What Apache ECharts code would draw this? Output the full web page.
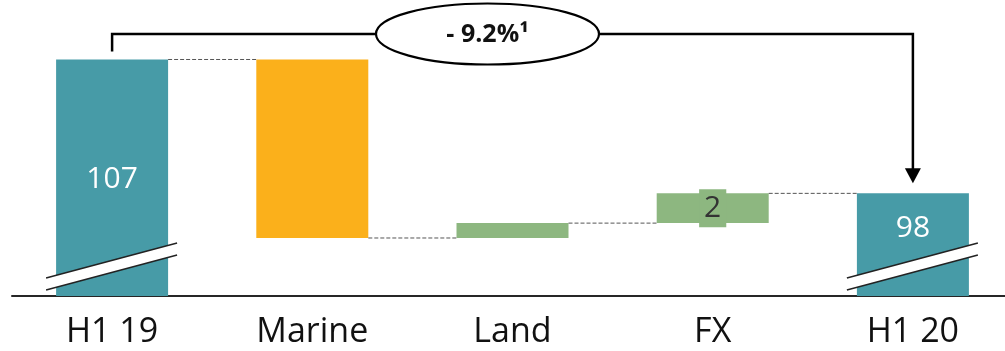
<!DOCTYPE html>
<html>
<head>
<meta charset="utf-8">
<script src="https://cdn.jsdelivr.net/npm/echarts@6/dist/echarts.min.js"></script>
<style>
  html, body { margin: 0; padding: 0; background: #fff; }
  #chart { width: 1005px; height: 351px; }
</style>
</head>
<body>
<div id="chart"></div>
<script>
// bridge data
const categories = ['H1 19', 'Marine', 'Land', 'FX', 'H1 20'];
const steps = [107, -12, 1, 2, 98];
const isTotal = [true, false, false, false, true];
const labelShown = [true, false, false, true, true];
const changeText = '- 9.2%\u00b9';

const teal = '#479ba7';
const orange = '#fbb01b';
const green = '#8db780';
const font = 'Open Sans';

// build floating bars from the steps
const baseData = [];
const barData = [];
let level = 0;
steps.forEach((v, i) => {
  let color;
  if (isTotal[i]) {
    baseData.push(0);
    barData.push(v);
    level = v;
    color = teal;
  } else if (v < 0) {
    baseData.push(level + v);
    barData.push(-v);
    level += v;
    color = orange;
  } else {
    baseData.push(level);
    barData.push(v);
    level += v;
    color = green;
  }
  barData[i] = {
    value: barData[i],
    itemStyle: { color: color },
    label: labelShown[i] ? (
      isTotal[i]
        ? (i === 0
          ? { show: true, color: '#fff', position: 'inside', offset: [0, 2] }
          : { show: true, color: '#fff', position: 'insideTop', distance: 20 })
        : { show: true, color: '#333', position: 'inside', backgroundColor: green, padding: [4, 5, 4, 5] }
    ) : { show: false }
  };
});

const chart = echarts.init(document.getElementById('chart'));

const option = {
  animation: false,
  grid: { left: 12, top: 0, width: 1001, height: 296, outerBoundsMode: 'none', containLabel: false },
  xAxis: {
    type: 'category',
    data: categories,
    axisTick: { show: false },
    axisLine: { lineStyle: { color: '#262626', width: 2 } },
    axisLabel: { color: '#111', fontSize: 34, fontFamily: font, margin: 19 }
  },
  yAxis: {
    type: 'value',
    min: 91.1,
    max: 111,
    show: false,
    splitLine: { show: false }
  },
  series: [
    {
      type: 'bar',
      stack: 'w',
      barWidth: 112,
      clip: true,
      itemStyle: { color: 'transparent' },
      data: baseData,
      silent: true
    },
    {
      type: 'bar',
      stack: 'w',
      barWidth: 112,
      clip: true,
      label: { fontSize: 30, fontFamily: font },
      data: barData
    }
  ]
};

chart.setOption(option);

// overlay: connectors, axis breaks, change bracket
const px = (i, v) => chart.convertToPixel({ gridIndex: 0 }, [i, v]);
const half = 56;
const graphics = [];

// dashed connectors between bars
let lvl = 0;
steps.forEach((v, i) => {
  lvl = isTotal[i] ? v : lvl + v;
  if (i < steps.length - 1) {
    const a = px(i, lvl);
    const b = px(i + 1, lvl);
    graphics.push({
      type: 'line',
      shape: { x1: a[0] + half, y1: a[1], x2: b[0] - half, y2: b[1] },
      style: { stroke: '#555', lineWidth: 1, lineDash: [4, 2] },
      z: 10
    });
  }
});

// axis break marks on the total bars
const bottomY = px(0, 91.1)[1];
isTotal.forEach((t, i) => {
  if (!t) return;
  const cx = px(i, 0)[0];
  const xl = cx - 66, xr = cx + 65;
  const yl = bottomY - 18, yr = bottomY - 53, gap = 12;
  graphics.push({
    type: 'polygon',
    shape: { points: [[xl, yl], [xr, yr], [xr, yr + gap], [xl, yl + gap]] },
    style: { fill: '#fff' },
    z: 20
  });
  [0, gap].forEach(d => {
    graphics.push({
      type: 'line',
      shape: { x1: xl, y1: yl + d, x2: xr, y2: yr + d },
      style: { stroke: '#222', lineWidth: 1.5 },
      z: 21
    });
  });
});

// change bracket with ellipse
const first = px(0, steps[0]);
const lastIdx = steps.length - 1;
const last = px(lastIdx, steps[lastIdx]);
const bracketY = 34;
const ex = 487.5, rx = 111.5, ry = 30.5;
graphics.push(
  {
    type: 'polyline',
    shape: { points: [[first[0], first[1] - 8], [first[0], bracketY], [ex - rx, bracketY]] },
    style: { stroke: '#000', lineWidth: 2.5, fill: null },
    z: 30
  },
  {
    type: 'polyline',
    shape: { points: [[ex + rx, bracketY], [last[0], bracketY], [last[0], last[1] - 22]] },
    style: { stroke: '#000', lineWidth: 2.5, fill: null },
    z: 30
  },
  {
    type: 'polygon',
    shape: { points: [[last[0] - 8, last[1] - 25], [last[0] + 8, last[1] - 25], [last[0], last[1] - 10]] },
    style: { fill: '#000' },
    z: 30
  },
  {
    type: 'ellipse',
    shape: { cx: ex, cy: bracketY, rx: rx, ry: ry },
    style: { fill: '#fff', stroke: '#000', lineWidth: 2.2 },
    z: 31
  },
  {
    type: 'text',
    x: ex,
    y: bracketY + 1,
    style: {
      text: changeText,
      fill: '#111',
      font: 'bold 25px "Open Sans"',
      align: 'center',
      verticalAlign: 'middle'
    },
    z: 32
  }
);

chart.setOption({ graphic: graphics });
</script>
</body>
</html>
